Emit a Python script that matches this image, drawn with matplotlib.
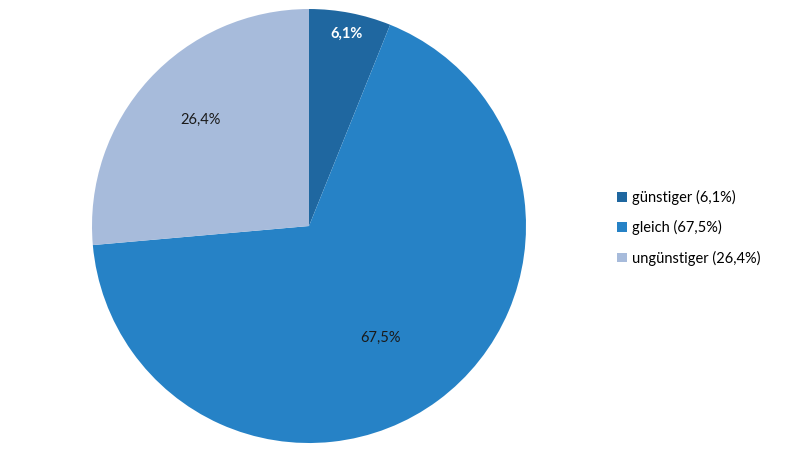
import matplotlib
matplotlib.use("Agg")
import matplotlib.pyplot as plt
import numpy as np

categories = ["günstiger", "gleich", "ungünstiger"]
values = [6.1, 67.5, 26.4]
value_labels = ["6,1%", "67,5%", "26,4%"]
colors = ["#1f67a0", "#2682c6", "#a7bbdb"]
label_colors = ["white", "#1a1a1a", "#1a1a1a"]
label_dist = [0.90, 0.61, 0.70]
label_shift = [0, -4, -2]  # degrees of angular shift for label placement

plt.rcParams['font.family'] = ['Lato', 'DejaVu Sans']

fig = plt.figure(figsize=(8, 4.51), dpi=100)
ax = fig.add_axes([0.115, 0.0177, 0.5425, 0.9623])
wedges, _ = ax.pie(values, colors=colors, startangle=90, counterclock=False,
                   wedgeprops=dict(linewidth=0))
for w, lab, c, d, s in zip(wedges, value_labels, label_colors, label_dist, label_shift):
    ang = np.deg2rad((w.theta1 + w.theta2) / 2 + s)
    ax.text(d * np.cos(ang), d * np.sin(ang), lab, ha='center', va='center',
            fontsize=10.5, color=c, fontweight='bold' if c == 'white' else 'normal')
ax.set_xlim(-1, 1)
ax.set_ylim(-1, 1)
ax.set_aspect('equal')

leg_labels = [f"{c} ({l})" for c, l in zip(categories, value_labels)]
fig.legend(wedges, leg_labels, loc='center left', bbox_to_anchor=(0.755, 0.495),
           frameon=False, fontsize=10.5, handlelength=0.65, handleheight=0.65,
           handletextpad=0.4, labelspacing=1.05)
fig.savefig("out.png", dpi=100)
